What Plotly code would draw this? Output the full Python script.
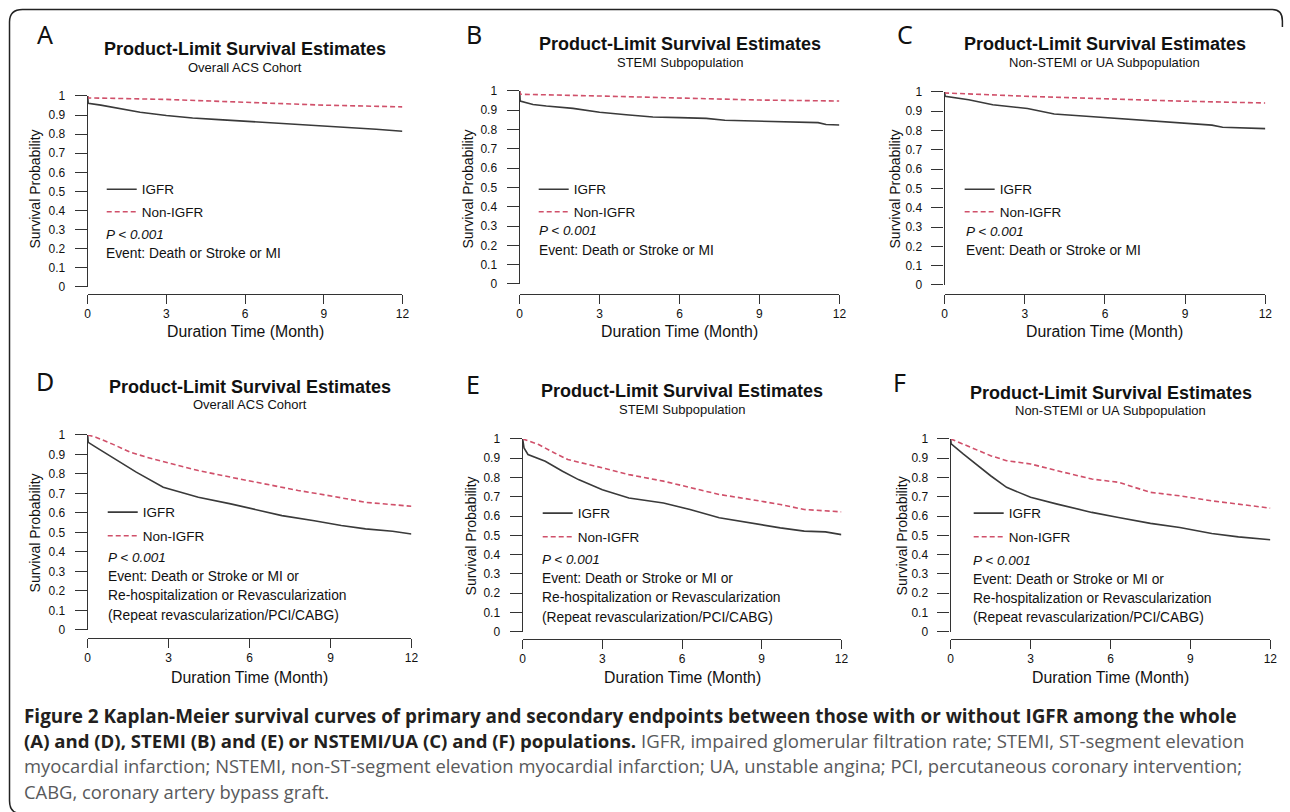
import plotly.graph_objects as go

W, H = 1290, 812

# ---------------- data ----------------
month_ticks = [0, 3, 6, 9, 12]
month_tick_labels = ["0", "3", "6", "9", "12"]
surv_ticks = [0, 0.1, 0.2, 0.3, 0.4, 0.5, 0.6, 0.7, 0.8, 0.9, 1]
surv_tick_labels = ["0", "0.1", "0.2", "0.3", "0.4", "0.5", "0.6", "0.7", "0.8", "0.9", "1"]
series_names = ["IGFR", "Non-IGFR"]

# (A) Overall ACS cohort - Death or Stroke or MI
a_igfr_month = [0, 0.02, 0.5, 1, 2, 3, 4, 5, 6, 7, 8, 9, 10, 11, 12]
a_igfr_surv = [1, 0.962, 0.952, 0.94, 0.915, 0.898, 0.885, 0.876, 0.868, 0.86, 0.851, 0.843, 0.835, 0.826, 0.815]
a_non_month = [0, 0.02, 3, 6, 9, 12]
a_non_surv = [1, 0.99, 0.982, 0.966, 0.952, 0.943]

# (B) STEMI - Death or Stroke or MI
b_igfr_month = [0, 0.02, 0.5, 1, 2, 3, 4, 5, 6, 7, 7.7, 9, 10.2, 11.2, 11.5, 12]
b_igfr_surv = [1, 0.948, 0.93, 0.922, 0.91, 0.89, 0.877, 0.865, 0.862, 0.858, 0.848, 0.845, 0.841, 0.836, 0.826, 0.824]
b_non_month = [0, 0.02, 3, 6, 9, 12]
b_non_surv = [1, 0.983, 0.974, 0.962, 0.953, 0.948]

# (C) Non-STEMI or UA - Death or Stroke or MI
c_igfr_month = [0, 0.02, 0.9, 1.8, 3.1, 4.1, 5.3, 6.1, 7.85, 8.86, 10, 10.4, 12]
c_igfr_surv = [1, 0.978, 0.96, 0.934, 0.914, 0.886, 0.874, 0.866, 0.852, 0.84, 0.828, 0.817, 0.81]
c_non_month = [0, 0.02, 3, 6, 9, 12]
c_non_surv = [1, 0.995, 0.978, 0.964, 0.952, 0.943]

# (D) Overall ACS cohort - composite endpoint
d_igfr_month = [0, 0.02, 0.3, 0.7, 1.2, 1.8, 2.8, 4.1, 5.3, 6.1, 7.2, 8.4, 9.4, 10.3, 11.3, 12]
d_igfr_surv = [1, 0.962, 0.937, 0.902, 0.859, 0.809, 0.732, 0.68, 0.646, 0.62, 0.586, 0.56, 0.535, 0.518, 0.506, 0.492]
d_non_month = [0, 0.3, 0.9, 1.6, 2.2, 2.8, 4.1, 5.3, 6.6, 7.8, 9.1, 10.3, 12]
d_non_surv = [1, 0.988, 0.954, 0.91, 0.885, 0.863, 0.817, 0.783, 0.749, 0.715, 0.685, 0.654, 0.634]

# (E) STEMI - composite endpoint
e_igfr_month = [0, 0.05, 0.2, 0.85, 1.5, 2.1, 3.0, 4.0, 5.3, 6.3, 7.4, 8.5, 9.7, 10.6, 11.4, 12]
e_igfr_surv = [1, 0.953, 0.919, 0.884, 0.832, 0.789, 0.737, 0.694, 0.668, 0.634, 0.591, 0.565, 0.539, 0.522, 0.518, 0.504]
e_non_month = [0, 0.6, 1.2, 1.7, 3.0, 4.0, 5.3, 6.3, 7.4, 8.6, 9.7, 10.6, 12]
e_non_surv = [1, 0.971, 0.927, 0.893, 0.85, 0.815, 0.781, 0.75, 0.712, 0.686, 0.66, 0.634, 0.622]

# (F) Non-STEMI or UA - composite endpoint
f_igfr_month = [0, 0.02, 0.47, 0.85, 1.5, 2.1, 3.0, 4.0, 5.3, 6.3, 7.5, 8.6, 9.8, 10.8, 12]
f_igfr_surv = [1, 0.974, 0.922, 0.879, 0.809, 0.749, 0.697, 0.662, 0.619, 0.593, 0.562, 0.541, 0.51, 0.492, 0.477]
f_non_month = [0, 0.6, 1.5, 2.1, 3.0, 4.0, 5.3, 6.3, 7.5, 8.6, 9.8, 10.8, 12]
f_non_surv = [1, 0.965, 0.913, 0.887, 0.87, 0.835, 0.792, 0.775, 0.723, 0.705, 0.679, 0.662, 0.641]

panel_letters = ["A", "B", "C", "D", "E", "F"]
panel_titles = ["Product-Limit Survival Estimates"] * 6
panel_subtitles = ["Overall ACS Cohort", "STEMI Subpopulation", "Non-STEMI or UA Subpopulation",
                   "Overall ACS Cohort", "STEMI Subpopulation", "Non-STEMI or UA Subpopulation"]
p_value_text = "P &lt; 0.001"
event_short = ["Event: Death or Stroke or MI"]
event_long = ["Event: Death or Stroke or MI or",
              "Re-hospitalization or Revascularization",
              "(Repeat revascularization/PCI/CABG)"]
x_title = "Duration Time (Month)"
y_title = "Survival Probability"

caption_bold_1 = "Figure 2 Kaplan-Meier survival curves of primary and secondary endpoints between those with or without IGFR among the whole"
caption_bold_2 = "(A) and (D), STEMI (B) and (E) or NSTEMI/UA (C) and (F) populations."
caption_reg_2 = " IGFR, impaired glomerular filtration rate; STEMI, ST-segment elevation"
caption_reg_3 = "myocardial infarction; NSTEMI, non-ST-segment elevation myocardial infarction; UA, unstable angina; PCI, percutaneous coronary intervention;"
caption_reg_4 = "CABG, coronary artery bypass graft."

curves = [
    (a_igfr_month, a_igfr_surv, a_non_month, a_non_surv),
    (b_igfr_month, b_igfr_surv, b_non_month, b_non_surv),
    (c_igfr_month, c_igfr_surv, c_non_month, c_non_surv),
    (d_igfr_month, d_igfr_surv, d_non_month, d_non_surv),
    (e_igfr_month, e_igfr_surv, e_non_month, e_non_surv),
    (f_igfr_month, f_igfr_surv, f_non_month, f_non_surv),
]

# ---------------- layout (target pixels in the photographed picture) ----------------
panels = [
    dict(x0=88, x1=402, y0=95, y1=286, xline=293, letter=(45, 33), title_y=48, sub_y=67, ytit=(35, 188),
         leg=(102, 173), gap=2, ptxt=(104, 234), ev_y=[253], xtit_y=331),
    dict(x0=519, x1=838, y0=90, y1=283, xline=293, letter=(473, 33), title_y=43, sub_y=62, ytit=(467, 188),
         leg=(533, 173), gap=2, ptxt=(536, 230), ev_y=[250], xtit_y=331),
    dict(x0=943, x1=1263, y0=91, y1=284, xline=293, letter=(903, 33), title_y=43, sub_y=62, ytit=(893, 188),
         leg=(958, 173), gap=2, ptxt=(962, 231), ev_y=[250], xtit_y=331),
    dict(x0=88, x1=411, y0=434, y1=629, xline=637, letter=(45, 380), title_y=386, sub_y=404, ytit=(35, 532),
         leg=(103, 496), gap=3, ptxt=(106, 557), ev_y=[576, 595, 615], xtit_y=677),
    dict(x0=522, x1=840, y0=438, y1=631, xline=638, letter=(472, 383), title_y=390, sub_y=409, ytit=(470, 535),
         leg=(537, 497), gap=3, ptxt=(539, 559), ev_y=[578, 597, 617], xtit_y=677),
    dict(x0=949, x1=1268, y0=438, y1=631, xline=638, letter=(898, 381), title_y=392, sub_y=410, ytit=(900, 535),
         leg=(967, 497), gap=3, ptxt=(969, 560), ev_y=[579, 598, 617], xtit_y=677),
]

# measured mapping from page pixels to the photographed picture
SX, OX = 0.99, 3.5
SY, OY = 0.983, 6.0

def px(x):
    return ((x - OX) / SX) / W

def py(y):
    return 1 - ((y - OY) / SY) / H

AX = "#333333"
TXT = "#111111"
FONT = "Liberation Sans, Arial, sans-serif"
SOLID = "#3a3a3a"
DASHC = "#d0506a"

fig = go.Figure()
layout = dict(
    width=W, height=H, margin=dict(l=0, r=0, t=0, b=0),
    paper_bgcolor="white", plot_bgcolor="white",
    font=dict(family=FONT, color=TXT),
)
annotations = []

for i, (p, cv) in enumerate(zip(panels, curves)):
    n = "" if i == 0 else str(i + 1)
    xname, yname, lname = "x" + n, "y" + n, "legend" + n
    im, isv, nm, nsv = cv
    fig.add_trace(go.Scatter(x=im, y=isv, mode="lines", name=series_names[0], xaxis=xname, yaxis=yname,
                             legend=lname, legendgroup=f"g{i}a",
                             line=dict(color=SOLID, width=1.6)))
    fig.add_trace(go.Scatter(x=nm, y=nsv, mode="lines", name=series_names[1], xaxis=xname, yaxis=yname,
                             legend=lname, legendgroup=f"g{i}b",
                             line=dict(color=DASHC, width=1.6, dash="5px,3px")))
    layout["xaxis" + n] = dict(
        domain=[px(p["x0"]), px(p["x1"])], range=[0, 12], anchor="free", position=py(p["xline"]),
        showline=True, linecolor=AX, linewidth=1.3, ticks="outside", ticklen=9, tickwidth=1.3,
        tickcolor=AX, tickvals=month_ticks, ticktext=month_tick_labels, showgrid=False, zeroline=False,
        tickfont=dict(family=FONT, size=12, color=TXT), fixedrange=True,
    )
    layout["yaxis" + n] = dict(
        domain=[py(p["y1"]), py(p["y0"])], range=[0, 1], anchor=xname,
        showline=True, linecolor=AX, linewidth=1.3, ticks="outside", ticklen=12, tickwidth=1.3,
        tickcolor=AX, tickvals=surv_ticks, ticktext=surv_tick_labels, showgrid=False, zeroline=False,
        tickfont=dict(family=FONT, size=12, color=TXT), ticklabelstandoff=7, fixedrange=True,
    )
    layout[lname] = dict(
        x=px(p["leg"][0]), y=py(p["leg"][1]), xanchor="left", yanchor="top",
        bgcolor="rgba(0,0,0,0)", font=dict(family=FONT, size=13.5, color=TXT),
        tracegroupgap=p["gap"], itemclick=False, itemdoubleclick=False,
    )
    cx = (p["x0"] + p["x1"]) / 2
    annotations += [
        dict(text=panel_letters[i], x=px(p["letter"][0]), y=py(p["letter"][1]), xanchor="center", yanchor="middle",
             font=dict(family="Noto Sans, sans-serif", size=25, color=TXT)),
        dict(text="<b>" + panel_titles[i] + "</b>", x=px(cx), y=py(p["title_y"]), xanchor="center", yanchor="middle",
             font=dict(family=FONT, size=18, color=TXT)),
        dict(text=panel_subtitles[i], x=px(cx), y=py(p["sub_y"]), xanchor="center", yanchor="middle",
             font=dict(family=FONT, size=13, color=TXT)),
        dict(text=x_title, x=px(cx), y=py(p["xtit_y"]), xanchor="center", yanchor="middle",
             font=dict(family=FONT, size=15.8, color=TXT)),
        dict(text=y_title, x=px(p["ytit"][0]), y=py(p["ytit"][1]), xanchor="center", yanchor="middle",
             textangle=-90, font=dict(family=FONT, size=14, color=TXT)),
        dict(text="<i>" + p_value_text + "</i>", x=px(p["ptxt"][0]), y=py(p["ptxt"][1]), xanchor="left",
             yanchor="middle", font=dict(family=FONT, size=13.5, color=TXT)),
    ]
    ev_lines = event_short if i < 3 else event_long
    for line_txt, yy in zip(ev_lines, p["ev_y"]):
        annotations.append(dict(text=line_txt, x=px(p["ptxt"][0]), y=py(yy), xanchor="left", yanchor="middle",
                                font=dict(family=FONT, size=13.8, color=TXT)))

CAPF = "Open Sans, Noto Sans, sans-serif"
CAPB = "#231f20"
CAPG = "#58595b"
CAPS = 18.6
annotations += [
    dict(text="<b>" + caption_bold_1 + "</b>", x=px(22), y=py(715), xanchor="left", yanchor="middle",
         font=dict(family=CAPF, size=CAPS + 0.3, color=CAPB)),
    dict(text="<b>" + caption_bold_2 + "</b><span style='color:" + CAPG + "'>" + caption_reg_2 + "</span>",
         x=px(22), y=py(740), xanchor="left", yanchor="middle", font=dict(family=CAPF, size=CAPS, color=CAPB)),
    dict(text=caption_reg_3, x=px(22), y=py(765), xanchor="left", yanchor="middle",
         font=dict(family=CAPF, size=CAPS - 0.2, color=CAPG)),
    dict(text=caption_reg_4, x=px(22), y=py(791), xanchor="left", yanchor="middle",
         font=dict(family=CAPF, size=CAPS - 0.2, color=CAPG)),
]
for a in annotations:
    a.update(xref="paper", yref="paper", showarrow=False)
layout["annotations"] = annotations

border = (f"M {px(17)} {py(812)} Q {px(10)} {py(810)} {px(10)} {py(800)} "
          f"L {px(10)} {py(21)} Q {px(10)} {py(8.5)} {px(23)} {py(8.5)} "
          f"L {px(1270)} {py(8.5)} Q {px(1280)} {py(8.5)} {px(1280)} {py(20)} L {px(1280)} {py(26)}")
layout["shapes"] = [dict(type="path", path=border, xref="paper", yref="paper",
                         line=dict(color="#222222", width=1.5))]

fig.update_layout(**layout)
fig.write_html("out.html", config={"displayModeBar": False},
               post_script="document.body.style.margin='0px';document.body.style.overflow='hidden';")
